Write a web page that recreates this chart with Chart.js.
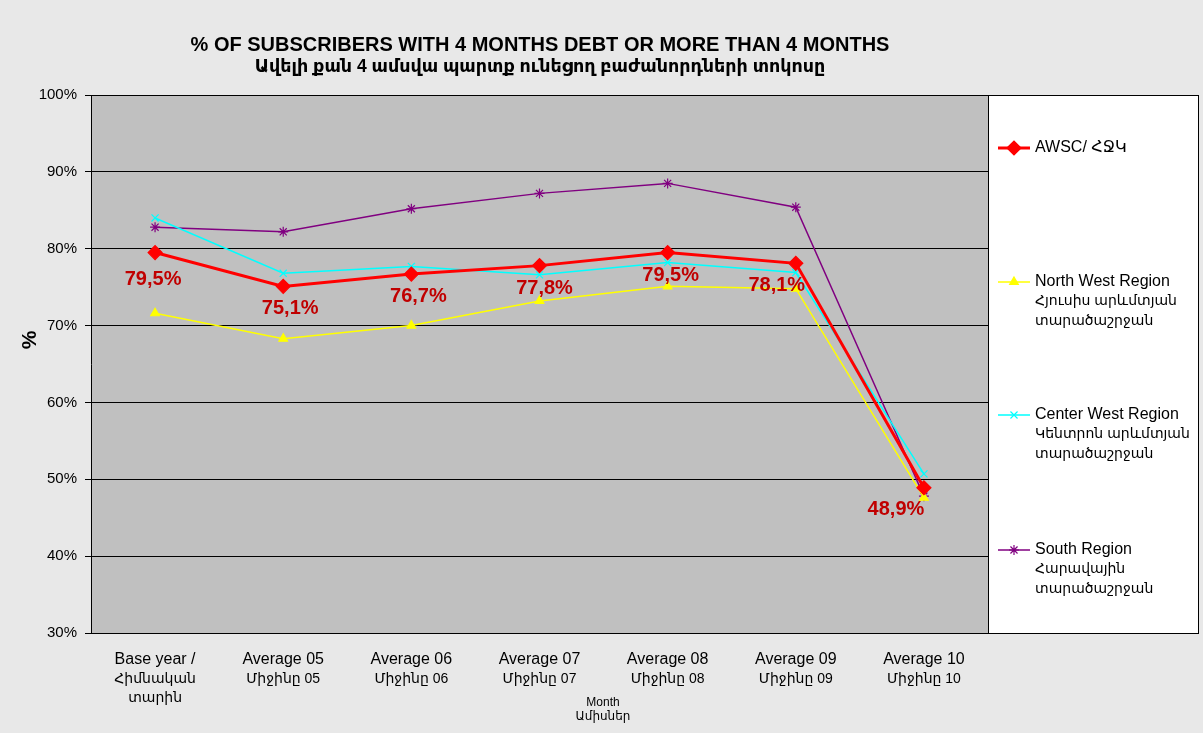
<!DOCTYPE html>
<html><head><meta charset="utf-8">
<script src="https://cdn.jsdelivr.net/npm/chart.js@4/dist/chart.umd.min.js"></script>
<style>
html,body{margin:0;padding:0;background:#e8e8e8;}
#wrap{width:1203px;height:733px;position:relative;}
</style></head>
<body><div id="wrap"><canvas id="c" width="1203" height="733"></canvas></div>
<script>
const categories = [
  ['Base year /','Հիմնական','տարին'],
  ['Average 05','Միջինը 05'],
  ['Average 06','Միջինը 06'],
  ['Average 07','Միջինը 07'],
  ['Average 08','Միջինը 08'],
  ['Average 09','Միջինը 09'],
  ['Average 10','Միջինը 10']
];
const awsc      = [79.5, 75.1, 76.7, 77.8, 79.5, 78.1, 48.9];
const northWest = [71.6, 68.3, 70.0, 73.2, 75.1, 74.8, 47.6];
const centerWest= [84.0, 76.8, 77.7, 76.6, 78.2, 76.9, 50.7];
const south     = [82.8, 82.2, 85.2, 87.2, 88.5, 85.4, 47.8];
const awscLabels = ['79,5%','75,1%','76,7%','77,8%','79,5%','78,1%','48,9%'];
const seriesNames = [
  ['AWSC/ ՀՋԿ'],
  ['North West Region','Հյուսիս արևմտյան','տարածաշրջան'],
  ['Center West Region','Կենտրոն արևմտյան','տարածաշրջան'],
  ['South Region','Հարավային','տարածաշրջան']
];
const titleLines = ['% OF SUBSCRIBERS WITH 4 MONTHS DEBT OR MORE THAN 4 MONTHS','Ավելի քան 4 ամսվա պարտք ունեցող բաժանորդների տոկոսը'];
const xTitle = ['Month','Ամիսներ'];
const yTitle = '%';

const FONT = 'Arial, "Liberation Sans", "DejaVu Sans", sans-serif';
const isLatin = t => /^[\x00-\x7F]/.test(t);

const decor = {
  id:'decor',
  beforeDraw(chart){
    const {ctx, chartArea:a} = chart;
    ctx.save();
    ctx.fillStyle = '#c0c0c0';
    ctx.fillRect(a.left, a.top, a.right-a.left, a.bottom-a.top);
    ctx.restore();
  },
  afterDraw(chart){
    const {ctx, chartArea:a} = chart;
    ctx.save();
    // title
    ctx.fillStyle = '#000';
    ctx.textAlign = 'center';
    ctx.textBaseline = 'middle';
    ctx.font = 'bold 20px ' + FONT;
    ctx.fillText(titleLines[0], 540, 45);
    ctx.font = 'bold 17.5px ' + FONT;
    ctx.fillText(titleLines[1], 540, 67);
    // y title
    ctx.save();
    ctx.translate(30, 340);
    ctx.rotate(-Math.PI/2);
    ctx.font = 'bold 21px ' + FONT;
    ctx.fillText(yTitle, 0, 0);
    ctx.restore();
    // x tick labels via the x scale
    const xs = chart.scales.x;
    categories.forEach((lines,i)=>{
      const x = xs.getPixelForTick(i);
      lines.forEach((t,j)=>{
        ctx.font = (isLatin(t) ? '16px ' : '14px ') + FONT;
        ctx.fillText(t, x, 660 + j*19);
      });
    });
    // x title
    ctx.font = '12px ' + FONT;
    ctx.fillText(xTitle[0], 603, 703);
    ctx.fillText(xTitle[1], 603, 717);
    // AWSC data labels
    const meta = chart.getDatasetMeta(0);
    const offs = chart.options.plugins.decor.labelOffsets;
    ctx.font = 'bold 20px ' + FONT;
    ctx.fillStyle = '#C00000';
    meta.data.forEach((p,i)=>{
      const o = offs[i];
      ctx.fillText(awscLabels[i], p.x + o[0], p.y + o[1]);
    });
    // legend box
    const lx = 988, ly = 95, lw = 210, lh = 538;
    ctx.fillStyle = '#fff';
    ctx.fillRect(lx, ly, lw, lh);
    ctx.strokeStyle = '#000';
    ctx.lineWidth = 1;
    ctx.strokeRect(lx+0.5, ly+0.5, lw, lh);
    const rowsY = [148, 282, 415, 550];
    ctx.textAlign = 'left';
    chart.data.datasets.forEach((ds,i)=>{
      const y = rowsY[i];
      ctx.strokeStyle = ds.borderColor;
      ctx.fillStyle = ds.borderColor;
      ctx.lineWidth = ds.borderWidth;
      ctx.beginPath(); ctx.moveTo(998, y); ctx.lineTo(1030, y); ctx.stroke();
      ctx.lineWidth = 1.2;
      Chart.helpers.drawPoint(ctx, {pointStyle: ds.pointStyle, radius: ds.legendRadius, borderWidth: 1.2, rotation:0}, 1014, y);
      ctx.fillStyle = '#000';
      seriesNames[i].forEach((t,j)=>{
        ctx.font = (isLatin(t) ? '16px ' : '14px ') + FONT;
        ctx.fillText(t, 1035, y + j*19.5);
      });
    });
    ctx.restore();
  }
};

const ds = (label, data, color, width, style, radius) => ({
  label, data, borderColor: color, backgroundColor: color,
  pointBorderColor: color, pointBackgroundColor: color,
  borderWidth: width, pointStyle: style, pointRadius: radius, pointHoverRadius: radius,
  pointBorderWidth: 1.2, tension: 0, legendRadius: radius
});

new Chart(document.getElementById('c'), {
  type: 'line',
  data: {
    labels: categories,
    datasets: [
      ds('AWSC', awsc, '#FF0000', 3, 'rectRot', 7),
      ds('North West', northWest, '#FFFF00', 1.5, 'triangle', 5),
      ds('Center West', centerWest, '#00FFFF', 1.5, 'crossRot', 5),
      ds('South', south, '#800080', 1.5, 'star', 5)
    ]
  },
  plugins: [decor],
  options: {
    responsive: false,
    animation: false,
    layout: { padding: { left: 0, right: 215, top: 95, bottom: 0 } },
    plugins: {
      legend: { display: false },
      title: { display: false },
      tooltip: { enabled: false },
      decor: { labelOffsets: [[-2,27],[7,22],[7,22],[5,23],[3,23],[-19,22],[-28,22]] }
    },
    scales: {
      x: {
        offset: true,
        grid: { display: false, drawTicks: false },
        border: { display: true, color: '#000', width: 1 },
        ticks: { display: false },
        afterFit(s){ s.height = 100; }
      },
      y: {
        min: 30, max: 100,
        grid: { color: '#000', lineWidth: 1, drawTicks: true, tickLength: 6, tickColor: '#000' },
        border: { display: true, color: '#000', width: 1 },
        ticks: { stepSize: 10, color: '#000', padding: 8, font: { family: FONT, size: 15 }, callback: v => v + '%' },
        afterFit(s){ s.width = 91; }
      }
    }
  }
});
</script>
</body></html>
